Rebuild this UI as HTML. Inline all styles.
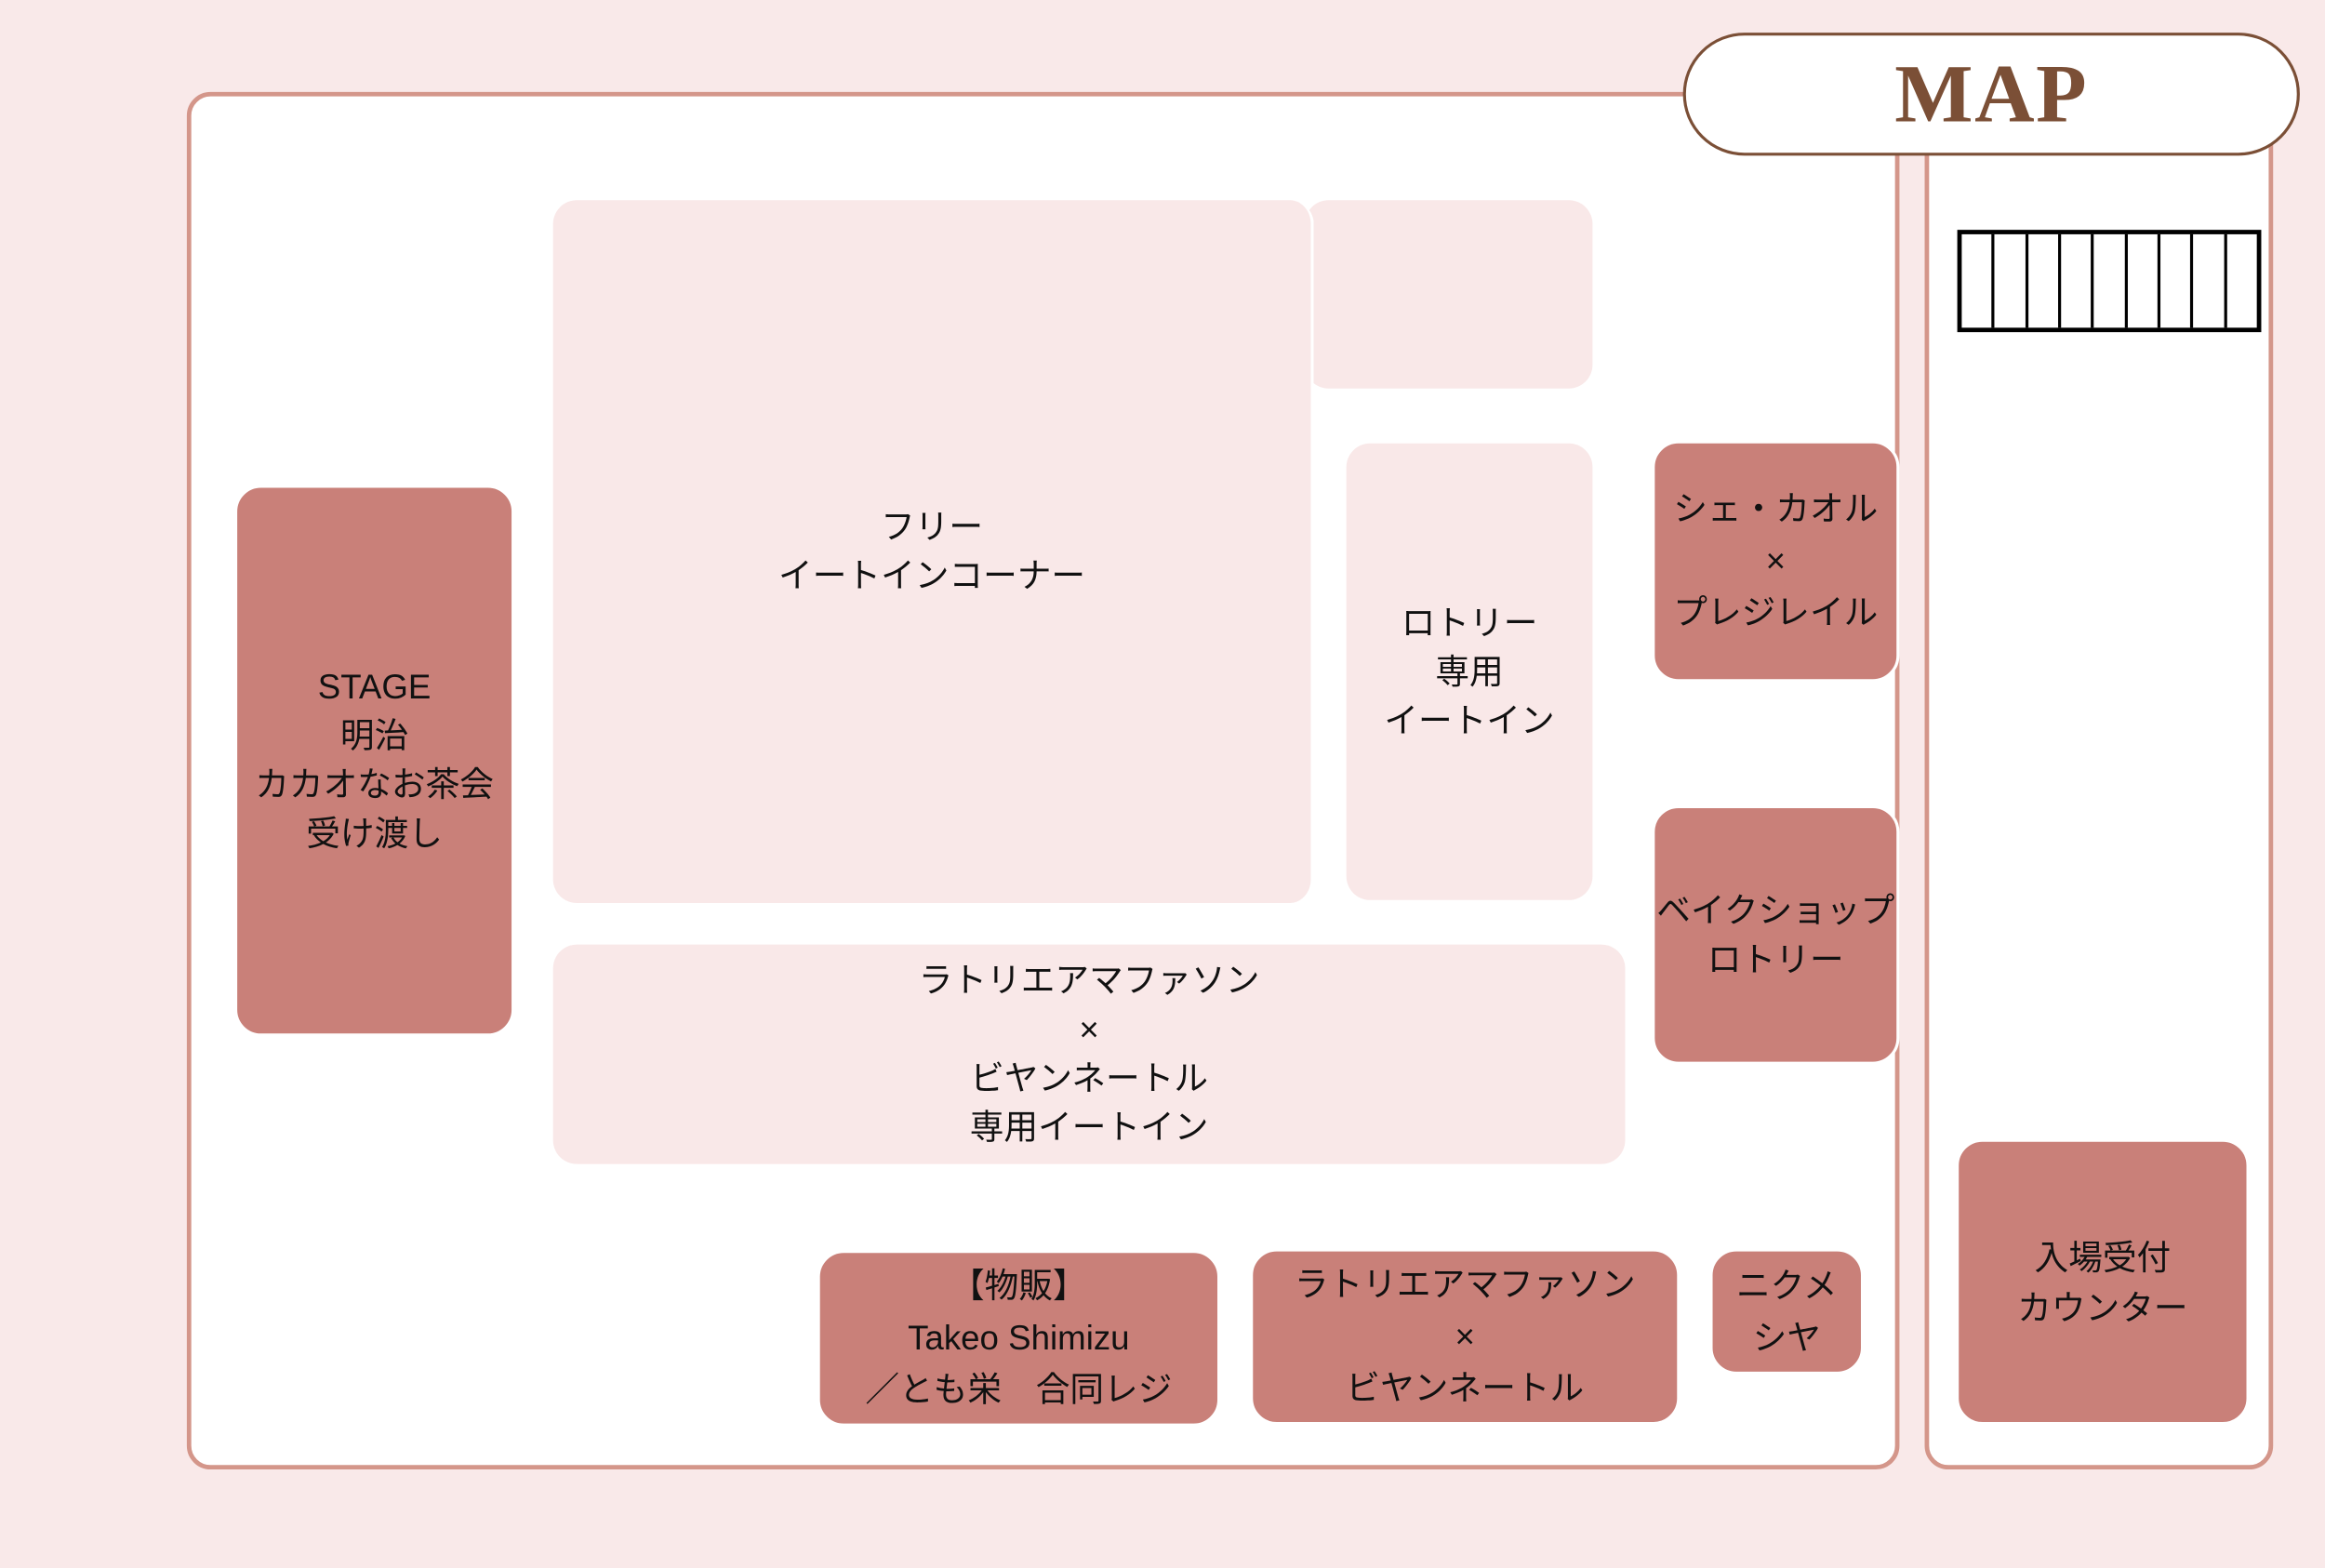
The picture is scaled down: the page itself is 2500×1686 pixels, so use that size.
<!DOCTYPE html>
<html><head><meta charset="utf-8"><style>
html,body{margin:0;padding:0;background:#f9e9e9;}
body{width:2500px;height:1686px;overflow:hidden;position:relative;}
#w{position:absolute;left:0;top:0;width:1568px;height:1057px;transform:scale(1.5944);transform-origin:0 0;font-family:"Liberation Sans","Noto Sans CJK JP",sans-serif;color:#111;}
.a{position:absolute;box-sizing:border-box;}
.b{display:flex;align-items:center;justify-content:center;text-align:center;font-size:23px;line-height:33px;}
.lp{background:#f9e8e8;border-radius:16px;}
.dk{background:#c98079;border:2px solid #fff;border-radius:18px;}
</style></head><body><div id="w">
<div class="a" style="left:126px;top:62px;width:1155px;height:929px;background:#fff;border:3px solid #d4968a;border-radius:16px;"></div>
<div class="a" style="left:1298px;top:62px;width:235px;height:929px;background:#fff;border:3px solid #d4968a;border-radius:16px;"></div>
<div class="a b" style="left:1135px;top:22px;width:416px;height:83px;background:#fff;border:2px solid #7b4f36;border-radius:42px;font-family:'Liberation Serif',serif;font-weight:bold;font-size:56px;color:#7b4f36;line-height:60px;letter-spacing:1px;">MAP</div>
<div class="a" style="left:1320px;top:155px;width:205px;height:69px;border:3px solid #000;display:flex;">
<div style="flex:1;border-right:2px solid #000"></div><div style="flex:1;border-right:2px solid #000"></div><div style="flex:1;border-right:2px solid #000"></div><div style="flex:1;border-right:2px solid #000"></div><div style="flex:1;border-right:2px solid #000"></div><div style="flex:1;border-right:2px solid #000"></div><div style="flex:1;border-right:2px solid #000"></div><div style="flex:1;border-right:2px solid #000"></div><div style="flex:1"></div></div>
<div class="a lp" style="left:880px;top:135px;width:194px;height:127px;"></div>
<div class="a lp b" style="left:373px;top:135px;width:513px;height:474px;border-right:2px solid #fff;">フリー<br>イートインコーナー</div>
<div class="a lp b" style="left:908px;top:299px;width:166px;height:308px;">ロトリー<br>専用<br>イートイン</div>
<div class="a lp b" style="left:373px;top:637px;width:723px;height:148px;">ラトリエアマファソン<br>×<br>ビヤンネートル<br>専用イートイン</div>
<div class="a dk b" style="left:158px;top:327px;width:189px;height:372px;">STAGE<br>明治<br>カカオなお茶会<br>受け渡し</div>
<div class="a dk b" style="left:1114px;top:297px;width:167px;height:163px;line-height:35px;">シェ・カオル<br>×<br>プレジレイル</div>
<div class="a dk b" style="left:1114px;top:543px;width:167px;height:175px;">ベイクショップ<br>ロトリー</div>
<div class="a dk b" style="left:1319px;top:768px;width:198px;height:193px;line-height:34px;">入場受付<br>カウンター</div>
<div class="a dk b" style="left:551px;top:843px;width:272px;height:119px;line-height:35px;">【物販】<br>Takeo Shimizu<br>／とも栄　合同レジ</div>
<div class="a dk b" style="left:843px;top:842px;width:290px;height:119px;line-height:35px;">ラトリエアマファソン<br>×<br>ビヤンネートル</div>
<div class="a dk b" style="left:1153px;top:842px;width:104px;height:85px;line-height:35px;">ニクメ<br>シヤ</div>
</div></body></html>
